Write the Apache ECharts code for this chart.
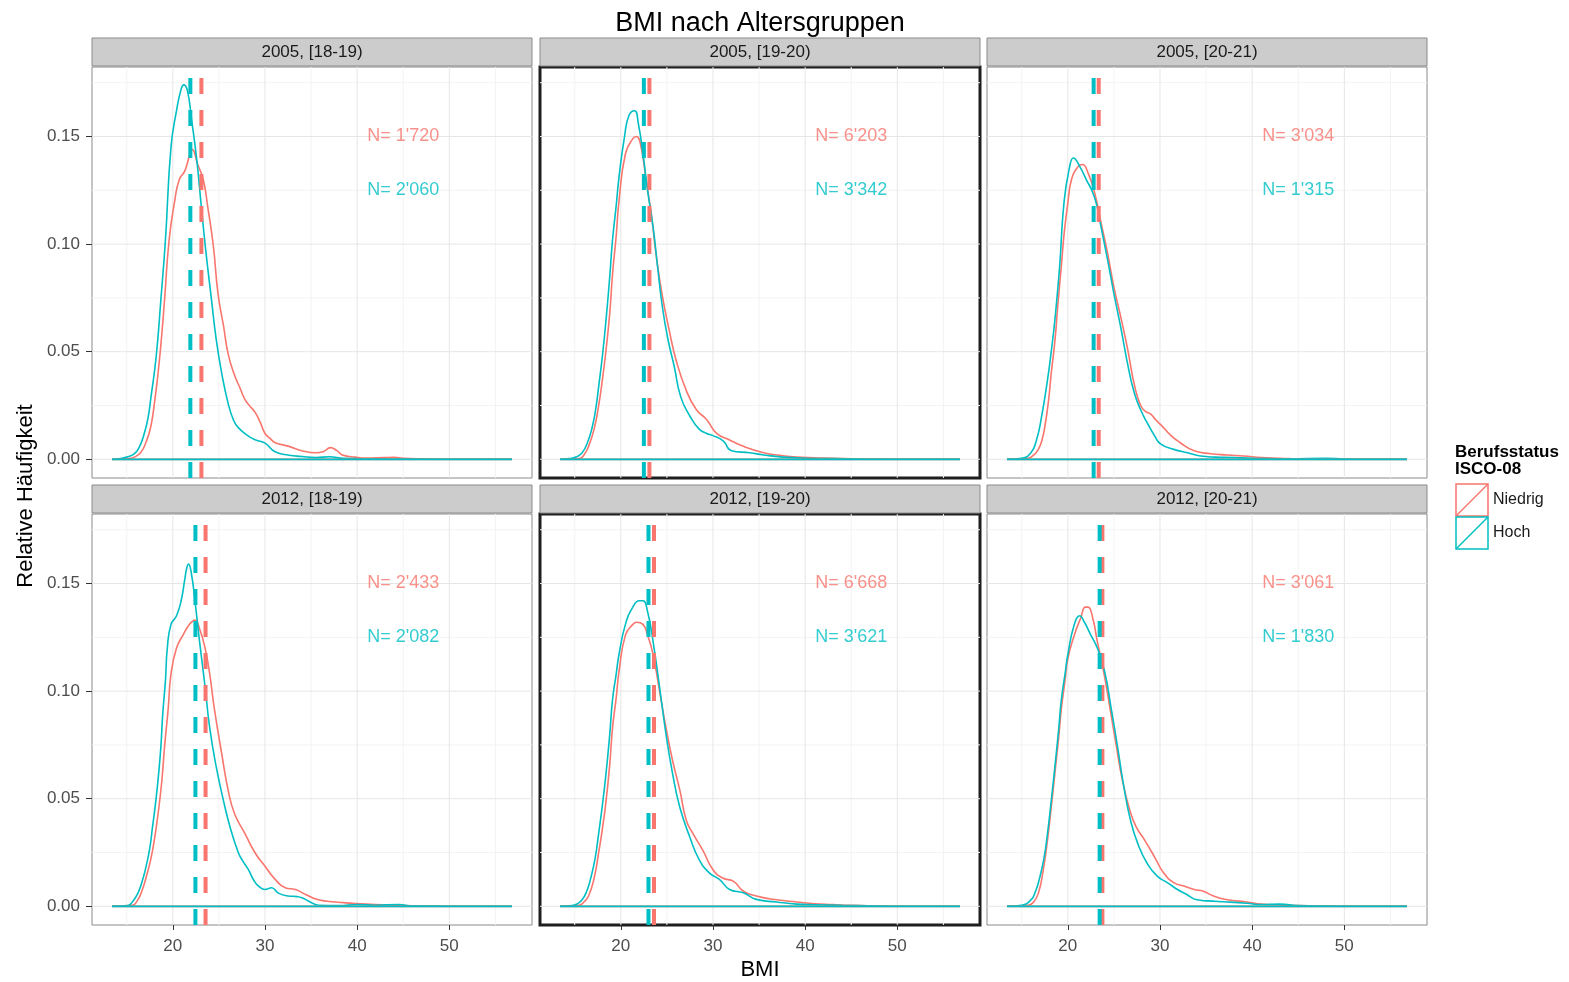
<!DOCTYPE html>
<html>
<head>
<meta charset="utf-8">
<script src="https://cdn.jsdelivr.net/npm/echarts@6/dist/echarts.min.js"></script>
<style>
html,body{margin:0;padding:0;background:#fff;}
#chart{width:1569px;height:982px;}
</style>
</head>
<body>
<div id="chart"></div>
<script>
// ---------------- DATA ----------------
const panelTitles = ["2005, [18-19)", "2005, [19-20)", "2005, [20-21)", "2012, [18-19)", "2012, [19-20)", "2012, [20-21)"];
const groupNames = ["Niedrig", "Hoch"];
const nNiedrig = ["1'720", "6'203", "3'034", "2'433", "6'668", "3'061"];
const nHoch = ["2'060", "3'342", "1'315", "2'082", "3'621", "1'830"];
const meanNiedrig = [23.1, 23.1, 23.35, 23.55, 23.6, 23.75];
const meanHoch = [21.9, 22.5, 22.8, 22.45, 23.0, 23.45];
const bmiRange = [13.4, 56.8];
const xTicks = [20, 30, 40, 50];
const xMinorTicks = [15, 25, 35, 45, 55];
const yTicks = [0, 0.05, 0.10, 0.15];
const yMinorTicks = [0.025, 0.075, 0.125, 0.175];
const labelPosX = 45;
const labelPosY = [0.15, 0.125];

const dens2005_18_niedrig = [[13.4,0],[15.1,0.0003],[15.8,0.001],[16.5,0.003],[17.1,0.008],[17.6,0.015],[18.0,0.026],[18.4,0.040],[18.8,0.058],[19.1,0.074],[19.6,0.102],[20.2,0.120],[20.7,0.130],[21.3,0.134],[21.8,0.141],[22.1,0.144],[22.7,0.137],[23.3,0.130],[23.8,0.117],[24.4,0.099],[24.9,0.077],[25.5,0.062],[26.0,0.049],[26.7,0.039],[27.3,0.033],[27.8,0.028],[28.3,0.025],[28.9,0.022],[29.5,0.017],[30.0,0.012],[30.6,0.0095],[31.1,0.0077],[32.6,0.006],[34.0,0.004],[35.5,0.003],[36.3,0.0035],[37.1,0.0054],[37.8,0.004],[38.4,0.002],[39.8,0.001],[41,0.0006],[43,0.0008],[44,0.0009],[45,0.0005],[47,0.0002],[50,0],[56.8,0]];
const dens2005_18_hoch = [[13.4,0],[14.3,0.0003],[15.0,0.001],[15.8,0.0025],[16.4,0.006],[16.9,0.012],[17.3,0.019],[17.6,0.028],[18.2,0.048],[18.7,0.074],[19.2,0.102],[19.8,0.145],[20.4,0.162],[20.9,0.172],[21.2,0.174],[21.6,0.171],[22.0,0.159],[22.6,0.139],[23.1,0.117],[23.6,0.096],[24.2,0.074],[24.7,0.056],[25.3,0.040],[26.0,0.026],[26.6,0.018],[27.1,0.0147],[28.2,0.0108],[29.0,0.009],[30.0,0.0075],[31.1,0.0035],[32.6,0.0019],[34.0,0.0013],[35.5,0.0008],[37.0,0.0012],[38.5,0.0004],[40,0.0003],[42,0.0002],[45,0.0001],[50,0],[56.8,0]];
const dens2005_19_niedrig = [[13.4,0],[15.5,0.0003],[16.0,0.002],[16.5,0.006],[17.1,0.014],[17.6,0.025],[18.0,0.037],[18.4,0.051],[18.8,0.068],[19.1,0.086],[19.5,0.104],[19.8,0.120],[20.5,0.142],[21.3,0.149],[21.7,0.150],[22.2,0.145],[22.7,0.131],[23.3,0.114],[23.8,0.096],[24.5,0.076],[25.3,0.059],[26.0,0.046],[27.1,0.032],[28.2,0.023],[29.3,0.0185],[30.4,0.012],[31.8,0.009],[33.3,0.006],[35.5,0.003],[37,0.002],[39.1,0.001],[41,0.0007],[44,0.0003],[47,0.0001],[50,0],[56.8,0]];
const dens2005_19_hoch = [[13.4,0],[14.4,0.0003],[15.2,0.0012],[15.8,0.003],[16.4,0.008],[16.9,0.015],[17.3,0.024],[17.6,0.034],[18.0,0.048],[18.4,0.065],[18.8,0.085],[19.1,0.102],[19.5,0.118],[19.8,0.131],[20.4,0.150],[20.9,0.160],[21.5,0.162],[21.9,0.156],[22.4,0.142],[22.9,0.125],[23.5,0.108],[24.0,0.089],[24.5,0.071],[25.1,0.056],[25.8,0.043],[26.5,0.029],[27.5,0.020],[28.5,0.014],[29.3,0.012],[30.0,0.011],[31.1,0.0085],[32.0,0.004],[34.0,0.003],[35.5,0.002],[37.6,0.001],[40,0.0005],[43,0.0003],[46,0.0001],[50,0],[56.8,0]];
const dens2005_20_niedrig = [[13.4,0],[15.7,0.0005],[16.3,0.002],[16.8,0.0046],[17.2,0.009],[17.5,0.015],[17.9,0.027],[18.2,0.040],[18.6,0.055],[18.9,0.071],[19.3,0.090],[19.6,0.105],[20.0,0.119],[20.4,0.130],[21.1,0.136],[21.6,0.137],[22.2,0.133],[22.9,0.124],[23.6,0.110],[24.3,0.096],[25.0,0.080],[25.8,0.065],[26.5,0.051],[27.2,0.035],[27.9,0.025],[28.5,0.022],[29.0,0.021],[29.6,0.018],[30.1,0.016],[31.2,0.011],[32.2,0.0077],[33.7,0.004],[35.5,0.0026],[37.3,0.002],[39.1,0.0015],[41,0.0008],[43,0.0005],[45,0.0002],[50,0],[56.8,0]];
const dens2005_20_hoch = [[13.4,0],[15.0,0.0005],[16.0,0.003],[16.6,0.009],[17.1,0.0185],[17.8,0.037],[18.2,0.050],[18.6,0.065],[19.1,0.089],[19.6,0.120],[20.2,0.136],[20.6,0.140],[21.3,0.136],[22.0,0.130],[22.7,0.124],[23.2,0.117],[23.6,0.108],[24.3,0.093],[25.0,0.077],[25.8,0.060],[26.5,0.044],[27.2,0.031],[27.9,0.023],[28.6,0.017],[29.4,0.011],[30.1,0.007],[31.5,0.0046],[33.0,0.003],[34.4,0.0015],[36,0.001],[38,0.0008],[40,0.0005],[44,0.0002],[48,0.0005],[50,0.0001],[52,0],[56.8,0]];
const dens2012_18_niedrig = [[13.4,0],[15.6,0.0005],[16.2,0.003],[16.7,0.0078],[17.2,0.015],[17.6,0.0217],[18.0,0.031],[18.4,0.043],[18.8,0.058],[19.1,0.074],[19.5,0.092],[19.8,0.108],[20.4,0.120],[21.1,0.126],[21.8,0.131],[22.4,0.133],[22.9,0.129],[23.5,0.120],[24.0,0.108],[24.5,0.092],[25.3,0.071],[26.0,0.054],[26.7,0.043],[27.8,0.034],[28.9,0.025],[30.0,0.0186],[31.1,0.0125],[32.2,0.0086],[33.3,0.0078],[34.4,0.0055],[35.8,0.003],[37.6,0.002],[39.5,0.0014],[41,0.001],[43,0.0006],[45,0.0003],[48,0.0001],[50,0],[56.8,0]];
const dens2012_18_hoch = [[13.4,0],[15.1,0.0003],[15.6,0.002],[16.2,0.006],[16.7,0.012],[17.1,0.0186],[17.5,0.027],[17.8,0.037],[18.1,0.047],[18.4,0.059],[18.7,0.074],[18.9,0.089],[19.2,0.105],[19.4,0.120],[19.8,0.131],[20.4,0.135],[20.9,0.142],[21.3,0.152],[21.5,0.157],[21.7,0.159],[22.0,0.155],[22.4,0.142],[22.9,0.123],[23.5,0.102],[24.0,0.083],[24.7,0.065],[25.5,0.049],[26.2,0.037],[27.1,0.025],[27.6,0.021],[28.2,0.017],[28.8,0.012],[29.3,0.0094],[30.0,0.0078],[30.7,0.0086],[31.5,0.006],[32.5,0.0048],[33.5,0.0045],[34.0,0.004],[34.7,0.0025],[35.8,0.0005],[38,0.0003],[40,0.0008],[42,0.0005],[44.5,0.0008],[46,0.0002],[50,0],[56.8,0]];
const dens2012_19_niedrig = [[13.4,0],[15.5,0.0005],[16.0,0.002],[16.5,0.0048],[17.1,0.013],[17.6,0.025],[18.0,0.036],[18.4,0.049],[18.8,0.066],[19.1,0.083],[19.5,0.097],[19.8,0.109],[20.5,0.126],[21.3,0.131],[21.7,0.132],[22.4,0.131],[22.9,0.126],[23.5,0.117],[24.2,0.100],[24.9,0.083],[25.6,0.068],[26.4,0.054],[27.1,0.040],[27.8,0.034],[28.9,0.026],[30.0,0.017],[31.1,0.013],[32.2,0.0117],[33.3,0.007],[34.7,0.0048],[36.9,0.003],[39.1,0.002],[41,0.0012],[43,0.0008],[45,0.0004],[48,0.0001],[50,0],[56.8,0]];
const dens2012_19_hoch = [[13.4,0],[14.7,0.0003],[15.3,0.0012],[15.8,0.003],[16.3,0.007],[16.7,0.0125],[17.2,0.022],[17.6,0.034],[18.0,0.047],[18.4,0.062],[18.8,0.080],[19.1,0.096],[19.5,0.108],[19.8,0.117],[20.5,0.131],[21.3,0.139],[22.0,0.142],[22.4,0.142],[22.9,0.137],[23.5,0.123],[24.2,0.102],[24.9,0.080],[25.6,0.062],[26.4,0.046],[27.5,0.032],[28.5,0.0217],[29.6,0.0155],[30.7,0.0125],[31.8,0.0078],[33.3,0.0063],[34.7,0.0032],[36.9,0.002],[39.1,0.001],[41,0.0007],[44,0.0004],[47,0.0002],[50,0],[56.8,0]];
const dens2012_20_niedrig = [[13.4,0],[15.7,0.0005],[16.3,0.002],[16.8,0.006],[17.3,0.016],[17.8,0.031],[18.2,0.046],[18.6,0.062],[19.0,0.078],[19.3,0.092],[19.7,0.105],[20.0,0.115],[20.7,0.126],[21.4,0.134],[21.9,0.139],[22.2,0.139],[22.7,0.134],[23.2,0.123],[23.8,0.111],[24.5,0.094],[25.2,0.076],[25.9,0.059],[26.7,0.045],[27.4,0.037],[28.3,0.031],[29.4,0.023],[30.4,0.0155],[31.5,0.011],[32.6,0.0094],[33.7,0.0078],[34.7,0.007],[35.8,0.0048],[37.3,0.003],[39.4,0.002],[41,0.001],[43,0.0006],[45,0.0003],[48,0.0001],[50,0],[56.8,0]];
const dens2012_20_hoch = [[13.4,0],[15.0,0.0005],[16.0,0.003],[16.5,0.007],[16.9,0.0125],[17.4,0.022],[17.8,0.034],[18.2,0.049],[18.6,0.065],[19.0,0.082],[19.3,0.096],[19.7,0.108],[20.0,0.117],[20.7,0.131],[21.3,0.135],[21.8,0.132],[22.5,0.126],[23.2,0.120],[24.0,0.109],[24.7,0.092],[25.4,0.074],[26.1,0.055],[26.8,0.040],[27.6,0.029],[28.6,0.020],[29.7,0.014],[30.8,0.011],[31.9,0.0078],[32.9,0.0055],[34.0,0.003],[35.1,0.0025],[37.3,0.002],[39.4,0.0014],[41,0.0008],[43,0.001],[45,0.0003],[50,0],[56.8,0]];

const densNiedrig = [dens2005_18_niedrig, dens2005_19_niedrig, dens2005_20_niedrig, dens2012_18_niedrig, dens2012_19_niedrig, dens2012_20_niedrig];
const densHoch = [dens2005_18_hoch, dens2005_19_hoch, dens2005_20_hoch, dens2012_18_hoch, dens2012_19_hoch, dens2012_20_hoch];

// ---------------- LAYOUT / STYLE ----------------
const RED = '#F8766D', CYAN = '#00BFC4';
const FONT = '"Liberation Sans", Arial, Helvetica, sans-serif';
const xMin = 11.23, xMax = 58.97, yMin = -0.0087, yMax = 0.1823;
const colLeft = [92, 540, 987];
const rowTop = [67, 514];
const panelW = 440, panelH = 411;
const stripH = 28;

const grids = [], xAxes = [], yAxes = [], series = [], graphics = [];

function gridLineSeries(p, pts, color) {
  return {
    type: 'line', xAxisIndex: p, yAxisIndex: p, data: pts, symbol: 'none', silent: true, z: 1,
    animation: false, lineStyle: { color: color, width: 1 }
  };
}

for (let p = 0; p < 6; p++) {
  const r = Math.floor(p / 3), c = p % 3;
  const hl = (c === 1);
  const showX = (r === 1), showY = (c === 0);
  grids.push({
    left: colLeft[c], top: rowTop[r], width: panelW, height: panelH,
    show: true, backgroundColor: '#ffffff',
    borderColor: hl ? '#1e1e1e' : '#8a8a8a', borderWidth: hl ? 3 : 1,
    containLabel: false
  });
  const xa = {
    gridIndex: p, type: 'value', min: xMin, max: xMax,
    axisLine: { show: false, onZero: false }, splitLine: { show: false },
    axisTick: { show: false }, axisLabel: { show: false }
  };
  if (showX) {
    xa.axisTick = { show: true, customValues: xTicks, length: 5, lineStyle: { color: '#333333', width: 1 } };
    xa.axisLabel = { show: true, customValues: xTicks, fontSize: 17, color: '#4D4D4D', fontFamily: FONT, margin: 13 };
  }
  if (p === 4) {
    xa.name = 'BMI'; xa.nameLocation = 'middle'; xa.nameGap = 34;
    xa.nameTextStyle = { fontSize: 22, color: '#000', fontFamily: FONT };
  }
  xAxes.push(xa);
  const ya = {
    gridIndex: p, type: 'value', min: yMin, max: yMax,
    axisLine: { show: false, onZero: false }, splitLine: { show: false },
    axisTick: { show: false }, axisLabel: { show: false }
  };
  if (showY) {
    ya.axisTick = { show: true, customValues: yTicks, length: 6, lineStyle: { color: '#333333', width: 1 } };
    ya.axisLabel = { show: true, customValues: yTicks, fontSize: 17, color: '#4D4D4D', fontFamily: FONT, margin: 12,
      formatter: v => v.toFixed(2) };
  }
  yAxes.push(ya);

  // grid lines (minor then major)
  xMinorTicks.forEach(v => series.push(gridLineSeries(p, [[v, yMin], [v, yMax]], '#F3F3F3')));
  yMinorTicks.forEach(v => series.push(gridLineSeries(p, [[xMin, v], [xMax, v]], '#F3F3F3')));
  xTicks.forEach(v => series.push(gridLineSeries(p, [[v, yMin], [v, yMax]], '#E6E6E6')));
  yTicks.forEach(v => series.push(gridLineSeries(p, [[xMin, v], [xMax, v]], '#E6E6E6')));

  // densities
  [[densNiedrig[p], RED, groupNames[0]], [densHoch[p], CYAN, groupNames[1]]].forEach(([d, col, nm]) => {
    series.push({
      type: 'line', name: nm, xAxisIndex: p, yAxisIndex: p, data: d,
      smooth: 0.5, symbol: 'none', silent: true, z: 3,
      lineStyle: { color: col, width: 1.6 }, animation: false
    });
  });
  // baselines (polygon bottom edge)
  [RED, CYAN].forEach((col, gi) => {
    series.push({
      type: 'line', name: groupNames[gi], xAxisIndex: p, yAxisIndex: p,
      data: [[bmiRange[0], 0], [bmiRange[1], 0]],
      symbol: 'none', silent: true, z: 3, lineStyle: { color: col, width: 1.8 }, animation: false
    });
  });
  // mean lines (dashed)
  [[meanNiedrig[p], RED, 0], [meanHoch[p], CYAN, 1]].forEach(([m, col, gi]) => {
    series.push({
      type: 'line', name: groupNames[gi], xAxisIndex: p, yAxisIndex: p,
      data: [[m, yMin], [m, yMax]],
      symbol: 'none', silent: true, z: 4, lineStyle: { color: col, width: 4, type: [16, 16] }, animation: false
    });
  });
  // N labels
  [[nNiedrig[p], RED, 0], [nHoch[p], CYAN, 1]].forEach(([n, col, gi]) => {
    series.push({
      type: 'scatter', xAxisIndex: p, yAxisIndex: p, data: [[labelPosX, labelPosY[gi]]],
      symbolSize: 0, itemStyle: { color: 'rgba(0,0,0,0)' }, silent: true, z: 5, animation: false,
      label: { show: true, position: 'inside', formatter: 'N= ' + n, color: col, fontSize: 18, fontFamily: FONT }
    });
  });

  // strips
  const sy = rowTop[r] - stripH - 1;
  graphics.push({
    type: 'rect', shape: { x: colLeft[c], y: sy, width: panelW, height: stripH },
    style: { fill: '#CCCCCC', stroke: '#8a8a8a', lineWidth: 1 }, silent: true, z: 10
  });
  graphics.push({
    type: 'text', x: colLeft[c] + panelW / 2, y: sy + stripH / 2 + 0.5,
    style: { text: panelTitles[p], fontSize: 17, fill: '#1A1A1A', fontFamily: FONT, textAlign: 'center', textVerticalAlign: 'middle' },
    silent: true, z: 11
  });
}

// axis title y
graphics.push({
  type: 'text', x: 26, y: 496, rotation: Math.PI / 2,
  style: { text: 'Relative Häufigkeit', fontSize: 22, fill: '#000', fontFamily: FONT, textAlign: 'center', textVerticalAlign: 'middle' },
  silent: true
});

// legend
const lgX = 1455;
graphics.push({ type: 'text', x: lgX, y: 452, style: { text: 'Berufsstatus', fontSize: 17, fontWeight: 'bold', fill: '#000', fontFamily: FONT, textVerticalAlign: 'middle' }, silent: true });
graphics.push({ type: 'text', x: lgX, y: 469, style: { text: 'ISCO-08', fontSize: 17, fontWeight: 'bold', fill: '#000', fontFamily: FONT, textVerticalAlign: 'middle' }, silent: true });
[RED, CYAN].forEach((col, i) => {
  const ky = 484 + i * 33;
  graphics.push({ type: 'rect', shape: { x: lgX + 1, y: ky, width: 32, height: 32 }, style: { fill: '#fff', stroke: col, lineWidth: 1.5 }, silent: true });
  graphics.push({ type: 'line', shape: { x1: lgX + 1, y1: ky + 32, x2: lgX + 33, y2: ky }, style: { stroke: col, lineWidth: 1.5 }, silent: true });
  graphics.push({ type: 'text', x: lgX + 38, y: ky + 16, style: { text: groupNames[i], fontSize: 16, fill: '#1A1A1A', fontFamily: FONT, textVerticalAlign: 'middle' }, silent: true });
});

const chart = echarts.init(document.getElementById('chart'), null, { renderer: 'canvas' });
chart.setOption({
  animation: false,
  backgroundColor: '#ffffff',
  title: { text: 'BMI nach Altersgruppen', left: 760, top: 10, padding: 0, textAlign: 'center',
    textStyle: { fontSize: 27, fontWeight: 'normal', color: '#000', fontFamily: FONT } },
  grid: grids, xAxis: xAxes, yAxis: yAxes, series: series, graphic: graphics
});
</script>
</body>
</html>
